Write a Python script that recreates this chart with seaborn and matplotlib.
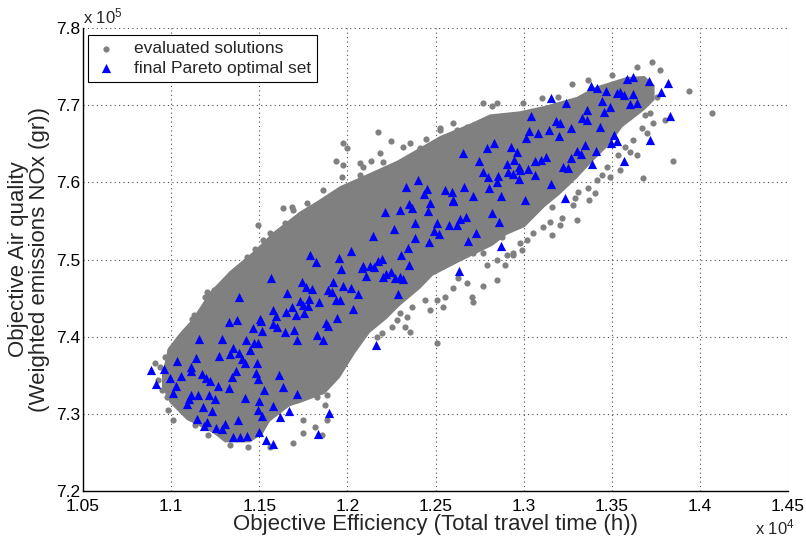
import matplotlib
matplotlib.use("Agg")
import matplotlib.pyplot as plt
import seaborn as sns

# ---------------- data (x in units of 1e4 h, y in units of 1e5 gr) ----------------
x_ticks = [1.05, 1.10, 1.15, 1.20, 1.25, 1.30, 1.35, 1.40, 1.45]
x_tick_labels = ["1.05", "1.1", "1.15", "1.2", "1.25", "1.3", "1.35", "1.4", "1.45"]
y_ticks = [7.2, 7.3, 7.4, 7.5, 7.6, 7.7, 7.8]
y_tick_labels = ["7.2", "7.3", "7.4", "7.5", "7.6", "7.7", "7.8"]

# outline of the region completely covered by evaluated solutions
core_x = [1.0948, 1.0982, 1.1050, 1.1118, 1.1220, 1.1333, 1.1475, 1.1577, 1.1730, 1.1845,
          1.1958, 1.2127, 1.2282, 1.2412, 1.2526, 1.2696, 1.2809, 1.2977, 1.3119, 1.3301,
          1.3405, 1.3584, 1.3686, 1.3743, 1.3743, 1.3686,
          1.3561, 1.3488, 1.3391, 1.3301, 1.3204, 1.3119, 1.3006, 1.2904, 1.2824, 1.2637,
          1.2484, 1.2412, 1.2297, 1.2223, 1.2127, 1.2042, 1.1958, 1.1872, 1.1730, 1.1673,
          1.1560, 1.1520, 1.1447, 1.1305, 1.1237, 1.1089, 1.0993, 1.0948]
core_y = [7.3504, 7.3850, 7.4050, 7.4220, 7.4580, 7.4850, 7.5120, 7.5350, 7.5620, 7.5780,
          7.5950, 7.6120, 7.6280, 7.6450, 7.6600, 7.6760, 7.6880, 7.6920, 7.6990, 7.7106,
          7.7236, 7.7365, 7.7378, 7.7261, 7.7067, 7.6938,
          7.6717, 7.6490, 7.6270, 7.6050, 7.5840, 7.5680, 7.5420, 7.5320, 7.5180, 7.4970,
          7.4790, 7.4620, 7.4400, 7.4230, 7.4050, 7.3780, 7.3470, 7.3260, 7.3140, 7.3100,
          7.2900, 7.2740, 7.2630, 7.2630, 7.2752, 7.2921, 7.3141, 7.3348]

# individually visible evaluated solutions around the dense cloud
eval_x = [1.1634, 1.1685, 1.1690, 1.1770, 1.1787, 1.1492, 1.1645, 1.1560, 1.1605, 1.1520,
          1.1577, 1.1475, 1.1429, 1.1435, 1.1407, 1.1384, 1.1357, 1.1333, 1.1276, 1.1242,
          1.1203, 1.1191, 1.1220, 1.1163, 1.1118, 1.1129,
          1.1050, 1.0993, 1.0965, 1.0908, 1.0936, 1.0925, 1.0948, 1.0976, 1.0982, 1.1010,
          1.1135, 1.1208, 1.1333, 1.1435, 1.1560, 1.1690, 1.1747, 1.1815, 1.1855, 1.1747,
          1.1883, 1.1872, 1.1826, 1.1883,
          1.2711, 1.2768, 1.2790, 1.2847, 1.2847, 1.2768, 1.2705, 1.2711, 1.2552, 1.2541,
          1.2507, 1.2467, 1.2439, 1.2365, 1.2337, 1.2297, 1.2325, 1.2280, 1.2253, 1.2355,
          1.2195, 1.2167, 1.2110, 1.2904, 1.2892, 1.2626, 1.2598, 1.2677, 1.2877, 1.2938,
          1.2507,
          1.2768, 1.2821, 1.2847, 1.2172, 1.2246, 1.1975, 1.1998, 1.2185, 1.1934, 1.1975,
          1.2072, 1.2134, 1.2201, 1.2087, 1.1969, 1.2072, 1.1860, 1.2598, 1.2526, 1.2620,
          1.2677, 1.2354, 1.2411, 1.2314, 1.2444, 1.2526,
          1.3938, 1.3848, 1.3677, 1.3641, 1.3734, 1.3802, 1.3700, 1.3672, 1.3618, 1.3575,
          1.3601, 1.3535, 1.3544, 1.3473, 1.3442, 1.3488, 1.3414, 1.3365, 1.3308, 1.3291,
          1.3641, 1.3728, 1.3499, 1.3272, 1.3365, 1.3195, 1.3104, 1.2994, 1.3715, 1.3686,
          1.3757, 1.3771,
          1.3405, 1.3371, 1.3301, 1.3218, 1.3204, 1.3150, 1.3161, 1.3110, 1.3053, 1.3019,
          1.2977, 1.2989, 1.2938, 1.3278, 1.3161, 1.4070]
eval_y = [7.5668, 7.5680, 7.5642, 7.5732, 7.5603, 7.5447, 7.5473, 7.5344, 7.5357, 7.5253,
          7.5188, 7.5136, 7.5033, 7.4968, 7.4929, 7.4851, 7.4799, 7.4735, 7.4592, 7.4605,
          7.4579, 7.4515, 7.4515, 7.4320, 7.4229, 7.4281,
          7.3957, 7.3828, 7.3737, 7.3659, 7.3607, 7.3439, 7.3309, 7.3219, 7.3050, 7.2921,
          7.2856, 7.2726, 7.2597, 7.2571, 7.2571, 7.2623, 7.2752, 7.2830, 7.2726, 7.2921,
          7.2921, 7.3115, 7.3219, 7.3244,
          7.5085, 7.5085, 7.4929, 7.4994, 7.4735, 7.4657, 7.4515, 7.4450, 7.4515, 7.4385,
          7.4476, 7.4346, 7.4476, 7.4385, 7.4255, 7.4307, 7.4126, 7.4216, 7.4126, 7.4061,
          7.4048, 7.3996, 7.4113, 7.5059, 7.4929, 7.4761, 7.4631, 7.4696, 7.5292, 7.5085,
          7.3918,
          7.7028, 7.6989, 7.7028, 7.6652, 7.6536, 7.6510, 7.6445, 7.6380, 7.6277, 7.6225,
          7.6251, 7.6277, 7.6264, 7.6199, 7.6069, 7.6095, 7.5901, 7.6769, 7.6679, 7.6679,
          7.6717, 7.6510, 7.6445, 7.6458, 7.6562, 7.6704,
          7.7184, 7.6277, 7.6056, 7.6354, 7.6769, 7.6808, 7.6640, 7.6704, 7.6549, 7.6458,
          7.6393, 7.6354, 7.6160, 7.6199, 7.6095, 7.6069, 7.6031, 7.5927, 7.5875, 7.5797,
          7.7495, 7.7559, 7.7391, 7.7274, 7.7326, 7.7106, 7.7093, 7.7028, 7.6899, 7.6873,
          7.7106, 7.7456,
          7.5862, 7.5771, 7.5512, 7.5538, 7.5447, 7.5486, 7.5318, 7.5422, 7.5344, 7.5253,
          7.5214, 7.5124, 7.5059, 7.5706, 7.5680, 7.6900]

# final Pareto optimal set
pareto_x = [1.1328, 1.1373, 1.1464, 1.1509, 1.1577, 1.1600, 1.1645, 1.1696, 1.1515, 1.1877,
            1.1826, 1.1860, 1.1713, 1.1157, 1.1288, 1.1424, 1.1469, 1.1492, 1.1350, 1.1333,
            1.1384, 1.1447, 1.1271, 1.1140, 1.1033, 1.1401, 1.1418, 1.1486, 1.1112, 1.1112,
            1.0885, 1.0959, 1.1055, 1.0993, 1.1174, 1.1197, 1.1220, 1.1367, 1.1344, 1.1481,
            1.1492, 1.1611, 1.0914, 1.1027, 1.1265, 1.1328, 1.1526, 1.1634, 1.1713, 1.1010,
            1.1112, 1.1152, 1.1214, 1.1101, 1.1248, 1.1418, 1.1498, 1.1089, 1.1180, 1.1231,
            1.1492, 1.1577, 1.1668, 1.1515, 1.1617, 1.1894, 1.1146, 1.1203, 1.1186, 1.1379,
            1.1305, 1.1254, 1.1288, 1.1498, 1.1832, 1.1350, 1.1390, 1.1430, 1.1537, 1.1577,
            1.1787, 1.1821, 1.1566, 1.1741, 1.1764, 1.1798, 1.1889, 1.1656, 1.1384, 1.1730,
            1.1781, 1.1747, 1.1775, 1.1838, 1.1685, 1.1651, 1.1577, 1.1594, 1.1753, 1.1707,
            1.1503,
            1.2348, 1.2365, 1.2467, 1.2598, 1.2212, 1.2297, 1.2456, 1.2819, 1.2671, 1.2637,
            1.2858, 1.2382, 1.2507, 1.2575, 1.2620, 1.2263, 1.2490, 1.2518, 1.2728, 1.2144,
            1.2382, 1.2461, 1.2683, 1.2870, 1.2342, 1.2019, 1.2195, 1.2172, 1.2303, 1.1951,
            1.2348, 1.2087, 1.2127, 1.2150, 1.2082, 1.1963, 1.2246, 1.2218, 1.2201, 1.2269,
            1.2297, 1.2314, 1.2104, 1.2632, 1.1917, 1.1974, 1.2019, 1.1911, 1.1934, 1.1957,
            1.2059, 1.2286, 1.2031, 1.1940, 1.1889,
            1.2830, 1.2790, 1.2926, 1.2960, 1.2654, 1.2745, 1.2904, 1.2943, 1.2768, 1.2796,
            1.2853, 1.2909, 1.2938, 1.2972, 1.2847, 1.2399, 1.2331, 1.2450, 1.2433, 1.2552,
            1.2592, 1.2660, 1.2598, 1.2711, 1.2802, 1.2870,
            1.3618, 1.3584, 1.3709, 1.3817, 1.3380, 1.3414, 1.3465, 1.3527, 1.3544, 1.3567,
            1.3618, 1.3777, 1.3153, 1.3442, 1.3238, 1.3488, 1.3601, 1.3641, 1.3357, 1.3454,
            1.3040, 1.3828, 1.3329, 1.3357, 1.3182, 1.3204, 1.3267, 1.3431, 1.3142, 1.3028,
            1.3079, 1.3199, 1.3510, 1.3527, 1.3496, 1.3715, 1.3013, 1.3348, 1.3408, 1.3301,
            1.3323, 1.3127, 1.3267, 1.3063, 1.3097, 1.3567, 1.3386, 1.3023, 1.2977, 1.3221,
            1.3250, 1.3063, 1.2972, 1.3153, 1.3233, 1.3006, 1.2161]
pareto_y = [7.4190, 7.4216, 7.4113, 7.4203, 7.4165, 7.4126, 7.4061, 7.4087, 7.4074, 7.4178,
            7.4022, 7.3957, 7.3957, 7.3970, 7.3970, 7.3957, 7.3918, 7.3918, 7.3854, 7.3776,
            7.3789, 7.3828, 7.3750, 7.3724, 7.3685, 7.3711, 7.3659, 7.3659, 7.3607, 7.3556,
            7.3569, 7.3582, 7.3491, 7.3465, 7.3517, 7.3465, 7.3426, 7.3556, 7.3478, 7.3530,
            7.3452, 7.3504, 7.3387, 7.3361, 7.3361, 7.3335, 7.3309, 7.3348, 7.3257, 7.3270,
            7.3244, 7.3244, 7.3244, 7.3193, 7.3193, 7.3206, 7.3167, 7.3128, 7.3089, 7.3037,
            7.3050, 7.3102, 7.3037, 7.2972, 7.2959, 7.3011, 7.2934, 7.2895, 7.2843, 7.2921,
            7.2869, 7.2817, 7.2804, 7.2765, 7.2739, 7.2700, 7.2700, 7.2713, 7.2661, 7.2610,
            7.5059, 7.4968, 7.4761, 7.4709, 7.4644, 7.4618, 7.4605, 7.4566, 7.4515, 7.4463,
            7.4488, 7.4411, 7.4398, 7.4450, 7.4385, 7.4320, 7.4346, 7.4268, 7.4307, 7.4281,
            7.4229,
            7.5720, 7.5668, 7.5732, 7.5758, 7.5616, 7.5642, 7.5629, 7.5603, 7.5551, 7.5525,
            7.5486, 7.5473, 7.5473, 7.5447, 7.5447, 7.5395, 7.5370, 7.5331, 7.5344, 7.5305,
            7.5279, 7.5227, 7.5240, 7.5175, 7.5149, 7.5110, 7.5007, 7.4981, 7.5059, 7.5020,
            7.4929, 7.4916, 7.4916, 7.4903, 7.4890, 7.4877, 7.4838, 7.4812, 7.4774, 7.4761,
            7.4774, 7.4748, 7.4787, 7.4851, 7.4709, 7.4657, 7.4631, 7.4579, 7.4476, 7.4476,
            7.4553, 7.4553, 7.4359, 7.4242, 7.4139,
            7.6510, 7.6445, 7.6458, 7.6393, 7.6380, 7.6277, 7.6238, 7.6290, 7.6134, 7.6069,
            7.6082, 7.6134, 7.6108, 7.6199, 7.6005, 7.6031, 7.5940, 7.5914, 7.5849, 7.5901,
            7.5875, 7.5940, 7.5771, 7.5823, 7.5927, 7.5823,
            7.7365, 7.7339, 7.7313, 7.7287, 7.7248, 7.7222, 7.7184, 7.7158, 7.7171, 7.7132,
            7.7145, 7.7171, 7.7093, 7.7054, 7.7028, 7.6976, 7.7015, 7.7028, 7.6938, 7.6912,
            7.6860, 7.6860, 7.6834, 7.6808, 7.6795, 7.6769, 7.6704, 7.6717, 7.6679, 7.6666,
            7.6640, 7.6601, 7.6614, 7.6536, 7.6510, 7.6549, 7.6575, 7.6484, 7.6406, 7.6406,
            7.6367, 7.6329, 7.6316, 7.6277, 7.6290, 7.6277, 7.6238, 7.6173, 7.6160, 7.6199,
            7.6186, 7.6095, 7.6044, 7.5979, 7.5797, 7.5771, 7.3892]

assert len(core_x) == len(core_y)
assert len(eval_x) == len(eval_y)
assert len(pareto_x) == len(pareto_y)

GRAY = "#808080"
BLUE = "#0000FF"

# ---------------- style ----------------
sns.set_theme(style="white")
plt.rcParams["font.family"] = ["Liberation Sans", "DejaVu Sans"]
plt.rcParams["mathtext.fontset"] = "custom"
plt.rcParams["mathtext.rm"] = "Liberation Sans"
plt.rcParams["mathtext.it"] = "Liberation Sans:italic"

fig = plt.figure(figsize=(8.06, 5.4), dpi=100)
ax = fig.add_axes([83 / 806, 49 / 540, 705 / 806, 463 / 540])

# dense part of the evaluated-solution cloud
ax.fill(core_x, core_y, color=GRAY, linewidth=0, zorder=2)
sns.scatterplot(x=eval_x, y=eval_y, color=GRAY, s=20, linewidth=0,
                label="evaluated solutions", ax=ax, zorder=3)
sns.scatterplot(x=pareto_x, y=pareto_y, marker="^", color=BLUE, s=44, linewidth=0,
                label="final Pareto optimal set", ax=ax, zorder=4)

ax.set_xlim(1.05, 1.45)
ax.set_ylim(7.2, 7.8)
ax.set_xticks(x_ticks)
ax.set_xticklabels(x_tick_labels)
ax.set_yticks(y_ticks)
ax.set_yticklabels(y_tick_labels)

ax.set_axisbelow(True)
ax.grid(True, linestyle=(0, (1, 3)), color="0.3", linewidth=0.8)
for side in ("top", "right"):
    ax.spines[side].set_visible(False)
for side in ("left", "bottom"):
    ax.spines[side].set_color("black")
    ax.spines[side].set_linewidth(1.0)
ax.tick_params(direction="in", length=5, width=0.8, labelsize=12.5,
               colors="black", top=False, right=False)
ax.tick_params(axis="x", pad=6)
ax.tick_params(axis="y", pad=2)

ax.set_xlabel("Objective Efficiency (Total travel time (h))", fontsize=16, labelpad=0)
ax.set_ylabel("Objective Air quality\n(Weighted emissions NOx (gr))", fontsize=16,
              labelpad=4, linespacing=1.0)

ax.text(0.0, 1.004, r"x 10$^{5}$", transform=ax.transAxes, fontsize=12,
        ha="left", va="bottom")
ax.text(0.982, -0.078, r"x 10$^{4}$", transform=ax.transAxes, fontsize=12,
        ha="center", va="center")

leg = ax.legend(loc="upper left", bbox_to_anchor=(5 / 705, 1 - 7 / 463),
                borderaxespad=0, fontsize=12.5, frameon=True, fancybox=False,
                edgecolor="black", framealpha=1, borderpad=0.35, labelspacing=0.25,
                handlelength=1.4, handletextpad=0.9)
leg.get_frame().set_linewidth(0.8)

fig.savefig("out.png", dpi=100)
